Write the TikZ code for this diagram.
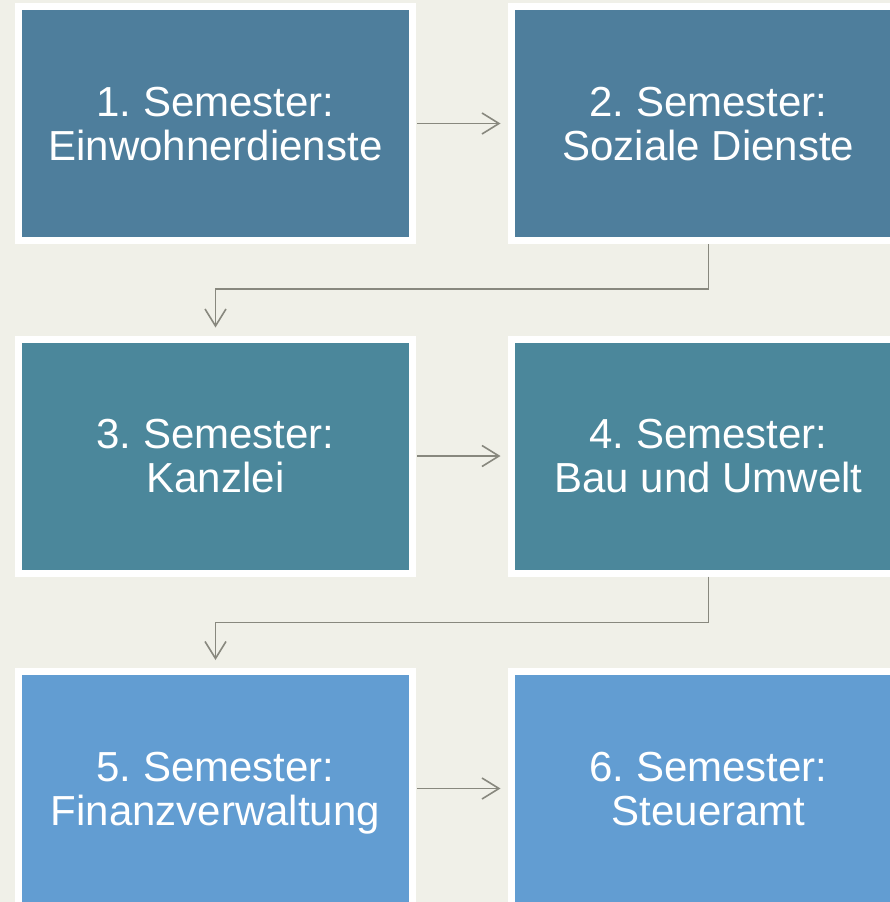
\documentclass[tikz,border=0pt]{standalone}
\usepackage{fontspec}
\setmainfont{Liberation Sans}
\usetikzlibrary{arrows.meta,calc}
\definecolor{bg}{RGB}{240,240,232}
\definecolor{rowA}{RGB}{78,126,156}
\definecolor{rowB}{RGB}{75,135,155}
\definecolor{rowC}{RGB}{98,157,210}
\definecolor{conncol}{RGB}{136,136,126}
\newcommand{\lowline}[1]{#1\vphantom{g}}
\newcommand{\topline}[1]{\rule{0pt}{38pt}#1}
\tikzset{
  sembox/.style={draw=white, line width=7pt, fill=#1, minimum width=394pt, minimum height=234pt,
    inner sep=0pt, outer sep=0pt, text=white, align=center,
    font=\fontsize{42}{44}\selectfont\frenchspacing},
  conn/.style={draw=conncol, line width=1.6pt, -{Straight Barb[length=17pt,width=21pt,line width=1.6pt]}}
}
\begin{document}
\begin{tikzpicture}[x=1pt,y=1pt]
\useasboundingbox (0,0) rectangle (890,-902);
\clip (0,0) rectangle (890,-902);
\fill[bg] (0,0) rectangle (890,-902);
\node[sembox=rowA] (b1) at (215.5,-123.5) {\topline{1. Semester:}\\\lowline{Einwohnerdienste}};
\node[sembox=rowA] (b2) at (708.5,-123.5) {\topline{2. Semester:}\\\lowline{Soziale Dienste}};
\node[sembox=rowB] (b3) at (215.5,-456) {\topline{3. Semester:}\\\lowline{Kanzlei}};
\node[sembox=rowB] (b4) at (708.5,-456) {\topline{4. Semester:}\\\lowline{Bau und Umwelt}};
\node[sembox=rowC] (b5) at (215.5,-788.5) {\topline{5. Semester:}\\\lowline{Finanzverwaltung}};
\node[sembox=rowC] (b6) at (708.5,-788.5) {\topline{6. Semester:}\\\lowline{Steueramt}};
\draw[conn, shorten <=4.5pt, shorten >=11pt] (b1.east) -- (b2.west);
\draw[conn, shorten <=4.5pt, shorten >=11pt] (b3.east) -- (b4.west);
\draw[conn, shorten <=4.5pt, shorten >=11pt] (b5.east) -- (b6.west);
\draw[conn, shorten <=3.5pt, shorten >=11.5pt] (b2.south) -- ++(0,-48.5) -| (b3.north);
\draw[conn, shorten <=3.5pt, shorten >=11.5pt] (b4.south) -- ++(0,-49.5) -| (b5.north);
\end{tikzpicture}
\end{document}
